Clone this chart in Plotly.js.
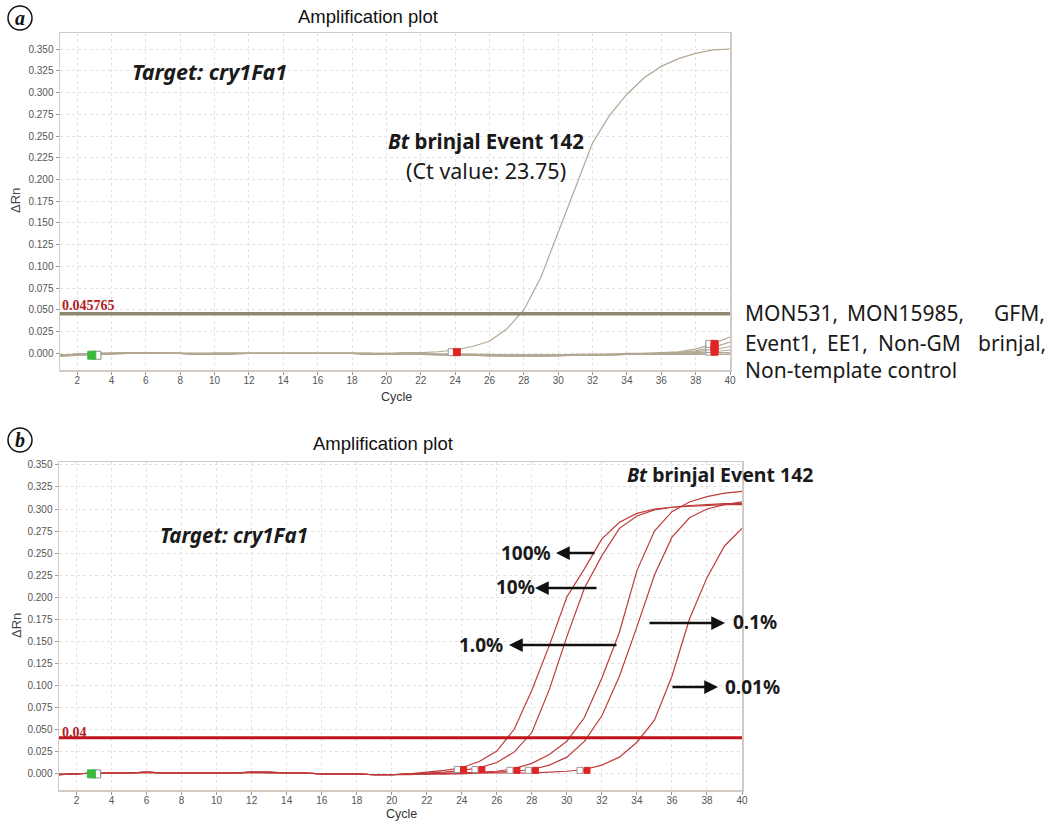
<!DOCTYPE html>
<html>
<head>
<meta charset="utf-8">
<script src="https://cdn.plot.ly/plotly-3.0.1.min.js"></script>
<style>html,body{margin:0;padding:0;background:#fff;}#chart{width:1052px;height:821px;}</style>
</head>
<body>
<div id="chart"></div>
<script>
// ---------- DATA ----------
const cycles = [1,2,3,4,5,6,7,8,9,10,11,12,13,14,15,16,17,18,19,20,21,22,23,24,25,26,27,28,29,30,31,32,33,34,35,36,37,38,39,40];

// Panel (a): target cry1Fa1
const thresholdA = 0.045765;
const event142A = [-0.002,-0.001,0.000,0.000,0.001,0.001,0.000,0.000,-0.001,0.000,0.000,0.000,0.000,0.000,0.000,0.000,0.000,0.000,0.000,0.000,0.001,0.001,0.002,0.004,0.008,0.014,0.028,0.050,0.088,0.140,0.192,0.242,0.274,0.298,0.317,0.330,0.339,0.345,0.349,0.350];
const nonTargetA1 = [-0.003,-0.001,0.000,0.000,0.001,0.001,0.000,0.000,-0.001,0.000,0.000,0.000,0.000,0.000,0.000,0.000,0.000,0.000,-0.001,-0.001,-0.001,0.000,-0.001,-0.001,-0.001,-0.001,-0.002,-0.002,-0.002,-0.002,-0.001,-0.001,-0.001,0.000,0.000,0.001,0.002,0.005,0.011,0.019];
const nonTargetA2 = [-0.002,-0.001,0.000,0.000,0.001,0.001,0.000,0.000,0.000,0.000,0.000,0.000,0.000,0.000,0.000,0.000,0.000,0.000,-0.001,-0.001,-0.001,-0.001,-0.001,-0.001,-0.002,-0.002,-0.002,-0.002,-0.002,-0.002,-0.002,-0.001,-0.001,-0.001,0.000,0.000,0.001,0.003,0.007,0.013];
const nonTargetA3 = [-0.003,-0.002,-0.001,0.000,0.000,0.001,0.000,0.000,-0.001,-0.001,0.000,0.000,0.000,0.000,0.000,0.000,0.000,0.000,0.000,-0.001,-0.001,-0.001,-0.001,-0.002,-0.002,-0.002,-0.003,-0.003,-0.003,-0.002,-0.002,-0.002,-0.001,-0.001,-0.001,0.000,0.001,0.002,0.004,0.008];
const nonTargetA4 = [-0.002,-0.001,-0.001,0.000,0.000,0.001,0.001,0.000,0.000,0.000,0.000,0.000,0.000,0.000,0.000,0.000,0.000,0.000,0.000,0.000,-0.001,-0.001,-0.001,-0.001,-0.001,-0.002,-0.002,-0.002,-0.002,-0.002,-0.002,-0.002,-0.001,-0.001,-0.001,0.000,0.000,0.001,0.002,0.004];
const nonTargetA5 = [-0.003,-0.002,-0.001,-0.001,0.000,0.000,0.000,0.000,-0.001,-0.001,-0.001,0.000,0.000,0.000,0.000,0.000,0.000,0.000,-0.001,-0.001,-0.001,-0.001,-0.002,-0.002,-0.002,-0.003,-0.003,-0.003,-0.003,-0.003,-0.002,-0.002,-0.002,-0.001,-0.001,-0.001,0.000,0.000,0.001,0.001];
const nonTargetA6 = [-0.002,-0.001,0.000,0.000,0.000,0.001,0.000,0.000,0.000,0.000,0.000,0.000,0.000,0.000,0.000,0.000,0.000,0.000,0.000,-0.001,-0.001,-0.001,-0.001,-0.001,-0.001,-0.002,-0.002,-0.002,-0.002,-0.002,-0.002,-0.002,-0.002,-0.001,-0.001,-0.001,-0.001,-0.001,-0.001,-0.001];

// Panel (b): dilution series of Bt brinjal Event 142
const thresholdB = 0.04;
const level100 = [-0.002,-0.001,0.000,0.000,0.000,0.001,0.000,0.000,0.000,0.000,0.000,0.001,0.001,0.000,0.000,-0.001,-0.001,-0.001,-0.002,-0.002,-0.001,0.001,0.003,0.006,0.013,0.025,0.050,0.094,0.145,0.200,0.232,0.266,0.285,0.295,0.300,0.302,0.303,0.304,0.305,0.305];
const level10 = [-0.002,-0.001,0.000,0.000,0.000,0.001,0.000,0.000,0.000,0.000,0.000,0.001,0.001,0.000,0.000,-0.001,-0.001,-0.001,-0.002,-0.002,-0.001,0.000,0.001,0.003,0.006,0.012,0.024,0.046,0.095,0.155,0.210,0.247,0.278,0.292,0.299,0.302,0.304,0.305,0.306,0.306];
const level1 = [-0.002,-0.001,0.000,0.000,0.000,0.001,0.000,0.000,0.000,0.000,0.000,0.001,0.000,0.000,0.000,-0.001,-0.001,-0.001,-0.002,-0.002,-0.001,-0.001,0.000,0.000,0.001,0.002,0.005,0.011,0.021,0.036,0.063,0.108,0.160,0.230,0.275,0.297,0.308,0.314,0.318,0.320];
const level01 = [-0.001,-0.001,0.000,0.000,0.000,0.001,0.000,0.000,0.000,0.000,0.000,0.000,0.000,0.000,0.000,-0.001,-0.001,-0.001,-0.002,-0.002,-0.001,-0.001,-0.001,0.000,0.000,0.001,0.002,0.004,0.009,0.018,0.036,0.065,0.110,0.166,0.225,0.268,0.290,0.300,0.305,0.308];
const level001 = [-0.002,-0.001,0.000,0.000,0.000,0.000,0.000,0.000,0.000,0.000,0.000,0.001,0.001,0.000,0.000,-0.001,-0.001,-0.001,-0.002,-0.002,-0.002,-0.001,-0.001,-0.001,0.000,0.000,0.000,0.000,0.001,0.002,0.004,0.009,0.018,0.035,0.060,0.110,0.175,0.222,0.258,0.278];

// Baseline start / Ct markers
const baseStartX = [2.85];
const baseStartOpenX = [3.15];
const ctMarkA_X = [24.1, 39.1, 39.1, 39.1, 39.1];
const ctMarkA_Y = [0.0015, 0.002, 0.005, 0.008, 0.011];
const ctOpenA_X = [23.8, 38.8, 38.8, 38.8, 38.8];
const ctMarkB_X = [24.1, 25.15, 27.15, 28.2, 31.15];
const ctMarkB_Y = [0.004, 0.004, 0.003, 0.003, 0.003];
const ctOpenB_X = [23.75, 24.75, 26.75, 27.8, 30.75];

const yTicks = [0,0.025,0.05,0.075,0.1,0.125,0.15,0.175,0.2,0.225,0.25,0.275,0.3,0.325,0.35];
const xTicks = [2,4,6,8,10,12,14,16,18,20,22,24,26,28,30,32,34,36,38,40];

// ---------- TRACES ----------
const tanCol = '#b3a794';
const redCol = '#bf3b3b';
const traces = [];
function line(x, y, xa, ya, color, width) {
  return {x: x, y: y, xaxis: xa, yaxis: ya, type: 'scatter', mode: 'lines',
          line: {color: color, width: width}, hoverinfo: 'skip', showlegend: false};
}
[nonTargetA1, nonTargetA2, nonTargetA3, nonTargetA4, nonTargetA5, nonTargetA6].forEach(s => traces.push(line(cycles, s, 'x', 'y', tanCol, 1.2)));
traces.push(line(cycles, event142A, 'x', 'y', tanCol, 1.2));
traces.push(line([cycles[0], cycles[cycles.length-1]], [thresholdA, thresholdA], 'x', 'y', '#8f8870', 3.5));

[level100, level10, level1, level01, level001].forEach(s => traces.push(line(cycles, s, 'x2', 'y2', redCol, 1.2)));
traces.push(line([cycles[0], cycles[cycles.length-1]], [thresholdB, thresholdB], 'x2', 'y2', '#c0141c', 3));

function marks(x, y, xa, ya, fill, lineCol, size) {
  return {x: x, y: y, xaxis: xa, yaxis: ya, type: 'scatter', mode: 'markers',
          marker: {symbol: 'square', size: size, color: fill, line: {color: lineCol, width: 1}},
          hoverinfo: 'skip', showlegend: false};
}
// panel a markers
traces.push(marks(baseStartOpenX, [-0.002], 'x', 'y', '#ffffff', '#888888', 8));
traces.push(marks(baseStartX, [-0.002], 'x', 'y', '#3cb93c', '#3cb93c', 8));
traces.push(marks(ctOpenA_X, ctMarkA_Y, 'x', 'y', '#ffffff', '#999999', 7));
traces.push(marks(ctMarkA_X, ctMarkA_Y, 'x', 'y', '#e02424', '#e02424', 7));
// panel b markers
traces.push(marks(baseStartOpenX, [-0.001], 'x2', 'y2', '#ffffff', '#888888', 8));
traces.push(marks(baseStartX, [-0.001], 'x2', 'y2', '#3cb93c', '#3cb93c', 8));
traces.push(marks(ctOpenB_X, ctMarkB_Y, 'x2', 'y2', '#ffffff', '#999999', 6));
traces.push(marks(ctMarkB_X, ctMarkB_Y, 'x2', 'y2', '#e02424', '#e02424', 6));

// ---------- LAYOUT ----------
const W = 1052, H = 821;
const px = v => v / W;
const py = v => 1 - v / H;

const axisCommon = {
  showline: true, mirror: true, linecolor: '#d3cbc3', linewidth: 1.5,
  showgrid: true, gridcolor: '#e2e2e2', griddash: 'dot', gridwidth: 1,
  ticks: 'outside', ticklen: 3, tickcolor: '#999',
  tickfont: {family: 'Liberation Sans, Arial', size: 10, color: '#555'},
  zeroline: false, fixedrange: true
};

const xa = Object.assign({}, axisCommon, {domain: [px(60), px(730)], anchor: 'y', range: [1, 40], tickvals: xTicks, ticklabelstandoff: -3});
const ya = Object.assign({}, axisCommon, {domain: [py(370), py(33)], anchor: 'x', range: [-0.019, 0.3684], tickvals: yTicks, tickformat: '.3f'});
const xb = Object.assign({}, axisCommon, {domain: [px(59), px(742)], anchor: 'y2', range: [1, 40], tickvals: xTicks, ticklabelstandoff: -3});
const yb = Object.assign({}, axisCommon, {domain: [py(790), py(462)], anchor: 'x2', range: [-0.0193, 0.3534], tickvals: yTicks, tickformat: '.3f'});

const sans = 'Noto Sans, Open Sans, sans-serif';
const arial = 'Liberation Sans, Arial, sans-serif';
function txt(text, x, y, size, opts) {
  return Object.assign({text: text, xref: 'paper', yref: 'paper', x: px(x), y: py(y),
    xanchor: 'left', yanchor: 'middle', showarrow: false,
    font: {family: sans, size: size, color: '#1a1a1a'}}, opts || {});
}
function arrow(hx, hy, tx, ty) {
  return {text: '', xref: 'paper', yref: 'paper', x: px(hx), y: py(hy), ax: tx - hx, ay: ty - hy,
    showarrow: true, arrowhead: 2, arrowsize: 1.1, arrowwidth: 2.5, arrowcolor: '#111'};
}

const annotations = [
  // panel labels
  txt('<b><i>a</i></b>', 20, 18, 19, {xanchor: 'center', font: {family: 'Liberation Serif, Times New Roman, serif', size: 20, color: '#111'}}),
  txt('<b><i>b</i></b>', 20, 440, 19, {xanchor: 'center', font: {family: 'Liberation Serif, Times New Roman, serif', size: 20, color: '#111'}}),
  // titles
  txt('Amplification plot', 368, 17, 18.5, {xanchor: 'center', font: {family: arial, size: 18.5, color: '#111'}}),
  txt('Amplification plot', 383, 443, 18.5, {xanchor: 'center', font: {family: arial, size: 18.5, color: '#111'}}),
  // axis titles
  txt('ΔRn', 16, 201, 13, {xanchor: 'center', textangle: -90, font: {family: arial, size: 13, color: '#444'}}),
  txt('ΔRn', 16, 626, 13, {xanchor: 'center', textangle: -90, font: {family: arial, size: 13, color: '#444'}}),
  txt('Cycle', 396, 397, 12.5, {xanchor: 'center', font: {family: arial, size: 12.5, color: '#333'}}),
  txt('Cycle', 401, 814, 12.5, {xanchor: 'center', font: {family: arial, size: 12.5, color: '#333'}}),
  // threshold labels
  txt('<b>0.045765</b>', 60, 306, 14, {font: {family: 'Liberation Serif, Times New Roman, serif', size: 14, color: '#b0201e'}}),
  txt('<b>0.04</b>', 60, 732, 14, {font: {family: 'Liberation Serif, Times New Roman, serif', size: 14, color: '#b0201e'}}),
  // panel a texts
  txt('<b><i>Target: cry1Fa1</i></b>', 130, 71, 21.5),
  txt('<b><i>Bt</i> brinjal Event 142</b>', 486, 141, 20.5, {xanchor: 'center'}),
  txt('(Ct value: 23.75)', 486, 170, 21.5, {xanchor: 'center'}),
  txt('MON531,', 743, 313, 21),
  txt('MON15985,', 845, 313, 21),
  txt('GFM,', 1047, 313, 21, {xanchor: 'right'}),
  txt('Event1,', 743, 343, 21),
  txt('EE1,', 825, 343, 21),
  txt('Non-GM', 876, 343, 21),
  txt('brinjal,', 1048, 343, 21, {xanchor: 'right'}),
  txt('Non-template control', 743, 370, 21),
  // panel b texts
  txt('<b><i>Target: cry1Fa1</i></b>', 158, 535, 20.5),
  txt('<b><i>Bt</i> brinjal Event 142</b>', 720, 474, 19.5, {xanchor: 'center'}),
  txt('<b>100%</b>', 499, 553, 19),
  txt('<b>10%</b>', 494, 587, 19),
  txt('<b>1.0%</b>', 457, 645, 19),
  txt('<b>0.1%</b>', 731, 622, 19),
  txt('<b>0.01%</b>', 723, 687, 19),
  arrow(556, 553, 596, 553),
  arrow(535, 588, 598, 588),
  arrow(509, 645, 618, 645),
  arrow(725, 623, 648, 623),
  arrow(718, 687, 671, 687)
];

const layout = {
  width: W, height: H,
  margin: {l: 0, r: 0, t: 0, b: 0},
  paper_bgcolor: '#ffffff', plot_bgcolor: '#ffffff',
  showlegend: false,
  xaxis: xa, yaxis: ya, xaxis2: xb, yaxis2: yb,
  annotations: annotations,
  shapes: [
    {type: 'circle', xref: 'paper', yref: 'paper', x0: px(8), x1: px(32), y0: py(30), y1: py(6), line: {color: '#111', width: 1.5}},
    {type: 'circle', xref: 'paper', yref: 'paper', x0: px(8), x1: px(32), y0: py(452), y1: py(428), line: {color: '#111', width: 1.5}}
  ]
};

Plotly.newPlot('chart', traces, layout, {displayModeBar: false, staticPlot: true});
</script>
</body>
</html>
